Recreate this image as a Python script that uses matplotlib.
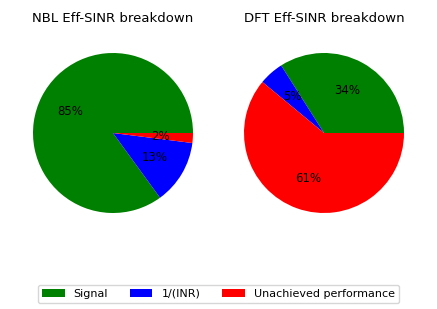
import matplotlib
matplotlib.use('Agg')
import matplotlib.pyplot as plt

labels = ['Signal', '1/(INR)', 'Unachieved performance']
colors = ['green', 'blue', 'red']
nbl_values = [85, 13, 2]
dft_values = [34, 5, 61]

fig = plt.figure(figsize=(4.37, 3.09), dpi=100)

# left pie (NBL)
ax1 = fig.add_axes([33/437, 96/309, 160/437, 160/309])
wedges, _, _ = ax1.pie(nbl_values, colors=colors, autopct='%1.0f%%',
                       textprops={'fontsize': 8.5})
ax1.set_xlim(-1, 1)
ax1.set_ylim(-1, 1)
ax1.set_title('NBL Eff-SINR breakdown', fontsize=9.5, pad=22)

# right pie (DFT)
ax2 = fig.add_axes([244/437, 96/309, 160/437, 160/309])
ax2.pie(dft_values, colors=colors, autopct='%1.0f%%',
        textprops={'fontsize': 8.5})
ax2.set_xlim(-1, 1)
ax2.set_ylim(-1, 1)
ax2.set_title('DFT Eff-SINR breakdown', fontsize=9.5, pad=22)

fig.legend(wedges, labels, loc='lower center', ncol=3, fontsize=8,
           bbox_to_anchor=(0.5, 0.0))

fig.savefig('out.png', dpi=100)
